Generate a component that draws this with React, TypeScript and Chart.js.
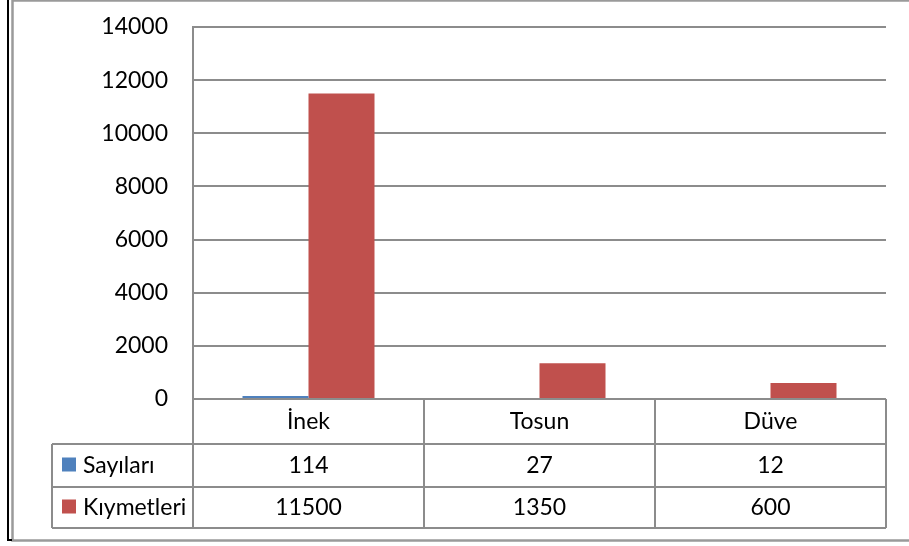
import React, { useEffect, useRef } from "react";
import { Chart, registerables } from "chart.js";

Chart.register(...registerables);

const categories = ["İnek", "Tosun", "Düve"];
const seriesNames = ["Sayıları", "Kıymetleri"];
const sayilari = [114, 27, 12];
const kiymetleri = [11500, 1350, 600];
const seriesColors = ["#4F81BD", "#C0504D"];
const yMax = 14000;
const yStep = 2000;

const FONT = "Lato, 'Open Sans', sans-serif";
const FONT_SIZE = 23;
const GRID = "#8c8c8c";

const tablePlugin = {
  id: "dataTable",
  beforeDraw(chart: any) {
    const ctx = chart.ctx;
    ctx.save();
    ctx.fillStyle = "#ffffff";
    ctx.fillRect(0, 0, chart.width, chart.height);
    ctx.strokeStyle = "#9a9a9a";
    ctx.lineWidth = 2.5;
    ctx.beginPath();
    ctx.moveTo(chart.width + 5, 0.5);
    ctx.lineTo(12.5, 0.5);
    ctx.lineTo(12.5, 540.5);
    ctx.lineTo(chart.width + 5, 540.5);
    ctx.stroke();
    ctx.strokeStyle = "#000000";
    ctx.lineWidth = 2;
    ctx.beginPath();
    ctx.moveTo(8, 0);
    ctx.lineTo(8, 540);
    ctx.lineTo(12, 540);
    ctx.stroke();
    ctx.restore();
  },
  afterDraw(chart: any) {
    const ctx = chart.ctx;
    const area = chart.chartArea;
    const xs = chart.scales.x;
    const n = categories.length;
    const colW = (area.right - area.left) / n;
    const rowTops = [area.bottom, area.bottom + 45, area.bottom + 88, area.bottom + 129];
    const tableLeft = 52;
    ctx.save();
    ctx.strokeStyle = GRID;
    ctx.lineWidth = 2;
    ctx.beginPath();
    ctx.moveTo(area.left, rowTops[0]);
    ctx.lineTo(area.right, rowTops[0]);
    for (let r = 1; r < rowTops.length; r++) {
      ctx.moveTo(tableLeft, rowTops[r]);
      ctx.lineTo(area.right, rowTops[r]);
    }
    ctx.moveTo(tableLeft, rowTops[1]);
    ctx.lineTo(tableLeft, rowTops[3]);
    for (let i = 0; i <= n; i++) {
      const x = area.left + i * colW;
      ctx.moveTo(x, rowTops[0]);
      ctx.lineTo(x, rowTops[3]);
    }
    ctx.stroke();

    ctx.fillStyle = "#000000";
    ctx.font = `${FONT_SIZE}px ${FONT}`;
    ctx.textAlign = "center";
    ctx.textBaseline = "middle";
    categories.forEach((c, i) => {
      const cx = xs.getPixelForValue(i);
      ctx.fillText(c, cx, (rowTops[0] + rowTops[1]) / 2);
    });
    const rows = [sayilari, kiymetleri];
    rows.forEach((vals, r) => {
      const cy = (rowTops[r + 1] + rowTops[r + 2]) / 2;
      vals.forEach((v, i) => {
        const cx = xs.getPixelForValue(i);
        ctx.fillText(String(v), cx, cy);
      });
      ctx.fillStyle = seriesColors[r];
      ctx.fillRect(62, cy - 8, 14, 14);
      ctx.fillStyle = "#000000";
      ctx.textAlign = "left";
      ctx.fillText(seriesNames[r], 83, cy);
      ctx.textAlign = "center";
    });
    ctx.restore();
  },
};

export default function App() {
  const ref = useRef<HTMLCanvasElement | null>(null);
  useEffect(() => {
    document.body.style.margin = "0";
    const canvas = ref.current!;
    const chart = new Chart(canvas, {
      type: "bar",
      data: {
        labels: categories,
        datasets: [
          {
            label: seriesNames[0],
            data: sayilari,
            backgroundColor: seriesColors[0],
            categoryPercentage: 2 / 3.5,
            barPercentage: 1,
          },
          {
            label: seriesNames[1],
            data: kiymetleri,
            backgroundColor: seriesColors[1],
            categoryPercentage: 2 / 3.5,
            barPercentage: 1,
          },
        ],
      },
      options: {
        animation: false,
        responsive: false,
        devicePixelRatio: 1,
        layout: { autoPadding: false, padding: { top: 27, right: 23, bottom: 147, left: 0 } },
        plugins: { legend: { display: false }, tooltip: { enabled: false } },
        scales: {
          x: { display: false },
          y: {
            min: 0,
            max: yMax,
            afterFit: (s: any) => {
              s.width = 193;
              s.paddingTop = 0;
              s.paddingBottom = 0;
            },
            ticks: {
              stepSize: yStep,
              padding: 25,
              color: "#000000",
              font: { family: FONT, size: FONT_SIZE },
              callback: (v: any) => String(v),
            },
            grid: { color: GRID, lineWidth: 2, drawTicks: false },
            border: { color: GRID, width: 2 },
          },
        },
      },
      plugins: [tablePlugin],
    });
    return () => chart.destroy();
  }, []);
  return (
    <div style={{ position: "absolute", left: 0, top: 0, width: 909, height: 546 }}>
      <canvas ref={ref} width={909} height={546} style={{ width: 909, height: 546, display: "block" }} />
    </div>
  );
}
